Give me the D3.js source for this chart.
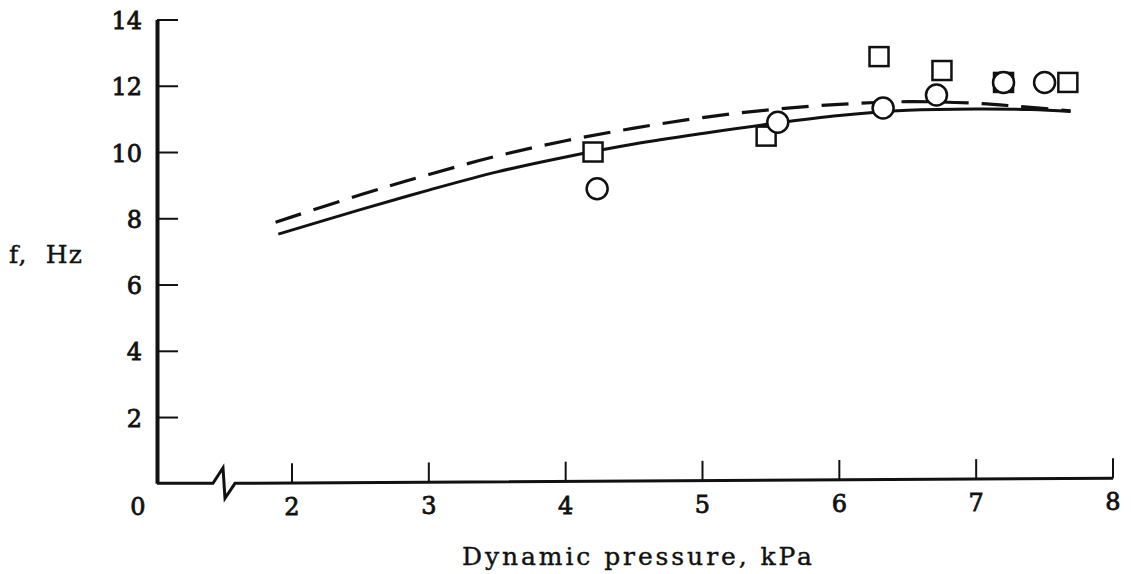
<!DOCTYPE html>
<html>
<head>
<meta charset="utf-8">
<script src="https://cdn.jsdelivr.net/npm/d3@7"></script>
<style>
  html, body { margin: 0; padding: 0; background: #fff; }
  svg { display: block; }
  text { font-family: "DejaVu Serif", "Liberation Serif", serif; fill: #111; }
</style>
</head>
<body>
<svg id="chart" width="1131" height="574"></svg>
<script>
// ---- data ----
const xTickValues = [2, 3, 4, 5, 6, 7, 8];
const yTickValues = [2, 4, 6, 8, 10, 12, 14];
const xZeroLabel = "0";
const xTitle = "Dynamic pressure, kPa";
const yTitle = "f,  Hz";

// solid curve
const solidQ = [1.9, 2.5, 3.0, 3.5, 4.0, 4.5, 5.0, 5.5, 6.0, 6.5, 7.0, 7.4, 7.69];
const solidF = [7.52, 8.26, 8.85, 9.40, 9.85, 10.24, 10.56, 10.85, 11.1, 11.26, 11.3, 11.28, 11.22];
// dashed curve
const dashQ = [1.88, 2.5, 3.0, 3.5, 4.0, 4.5, 5.0, 5.5, 6.0, 6.5, 7.0, 7.3, 7.69];
const dashF = [7.88, 8.71, 9.32, 9.88, 10.34, 10.72, 11.04, 11.28, 11.44, 11.52, 11.47, 11.38, 11.24];
// squares
const squareQ = [4.2, 5.465, 6.29, 6.75, 7.2, 7.67];
const squareF = [10.0, 10.48, 12.88, 12.46, 12.1, 12.1];
// circles
const circleQ = [4.23, 5.55, 6.32, 6.71, 7.2, 7.5];
const circleF = [8.89, 10.9, 11.33, 11.72, 12.1, 12.1];

// ---- layout ----
const svg = d3.select("#chart");
const x = d3.scaleLinear().domain([2, 8]).range([292, 1113]);
const y = d3.scaleLinear().domain([0, 14]).range([483.3, 19.5]);
const yAxisX = 157;
const tilt = v => -(v - 2) / 6 * 5;   // slight skew of the scanned x axis
const fmt = d3.format("d");

function styleTickText(sel) {
  sel.attr("font-size", 24)
    .attr("font-family", '"DejaVu Serif", serif').attr("fill", "#111")
    .attr("stroke", "#111").attr("stroke-width", 0.8);
}

// y axis
const yAxis = d3.axisLeft(y).tickValues(yTickValues).tickFormat(fmt)
  .tickSizeInner(-21).tickSizeOuter(0).tickPadding(15);
const gy = svg.append("g").attr("transform", `translate(${yAxisX},0)`).call(yAxis);
gy.select(".domain").attr("stroke", "#111").attr("stroke-width", 4);
gy.selectAll(".tick line").attr("stroke", "#111").attr("stroke-width", 2);
gy.selectAll(".tick text").attr("dy", "0.38em").call(styleTickText);

// x axis
const xAxis = d3.axisBottom(x).tickValues(xTickValues).tickFormat(fmt)
  .tickSizeInner(-20).tickSizeOuter(0).tickPadding(15);
const gx = svg.append("g").attr("transform", `translate(0,${y(0)})`).call(xAxis);
gx.select(".domain").remove();
gx.selectAll(".tick").attr("transform", d => `translate(${x(d)},${tilt(d)})`);
gx.selectAll(".tick line").attr("stroke", "#111").attr("stroke-width", 2);
gx.selectAll(".tick text").call(styleTickText);

// x axis line with break
const y0 = y(0);
const axisPath = d3.path();
axisPath.moveTo(yAxisX, y0);
axisPath.lineTo(213, y0);
axisPath.lineTo(223, y0 - 15.5);
axisPath.lineTo(225, y0 + 15);
axisPath.lineTo(235, y0);
axisPath.lineTo(x(8), y0 + tilt(8));
svg.append("path").attr("d", axisPath.toString())
  .attr("fill", "none").attr("stroke", "#111").attr("stroke-width", 3)
  .attr("stroke-linejoin", "miter");

// zero label
svg.append("text").attr("x", 138).attr("y", 515).attr("text-anchor", "middle")
  .call(styleTickText).text(xZeroLabel);

// titles
svg.append("text").attr("x", 462).attr("y", 565)
  .attr("font-size", 25).attr("textLength", 350).attr("lengthAdjust", "spacing")
  .attr("stroke", "#111").attr("stroke-width", 0.4)
  .text(xTitle);
svg.append("text").attr("x", 9).attr("y", 263)
  .attr("font-size", 25).style("white-space", "pre").attr("textLength", 73).attr("lengthAdjust", "spacing")
  .attr("stroke", "#111").attr("stroke-width", 0.4)
  .text(yTitle);

// curves
const line = d3.line().x(d => x(d[0])).y(d => y(d[1])).curve(d3.curveCatmullRom);
svg.append("path").attr("d", line(d3.zip(dashQ, dashF)))
  .attr("fill", "none").attr("stroke", "#111").attr("stroke-width", 3.2)
  .attr("stroke-dasharray", "27,13");
svg.append("path").attr("d", line(d3.zip(solidQ, solidF)))
  .attr("fill", "none").attr("stroke", "#111").attr("stroke-width", 3);

// markers
const sq = 19;
svg.append("g").selectAll("rect").data(d3.zip(squareQ, squareF)).join("rect")
  .attr("x", d => x(d[0]) - sq / 2).attr("y", d => y(d[1]) - sq / 2)
  .attr("width", sq).attr("height", sq)
  .attr("fill", "#fff").attr("stroke", "#111").attr("stroke-width", 2.5);
svg.append("g").selectAll("circle").data(d3.zip(circleQ, circleF)).join("circle")
  .attr("cx", d => x(d[0])).attr("cy", d => y(d[1])).attr("r", 10.5)
  .attr("fill", "#fff").attr("stroke", "#111").attr("stroke-width", 2.5);
</script>
</body>
</html>
